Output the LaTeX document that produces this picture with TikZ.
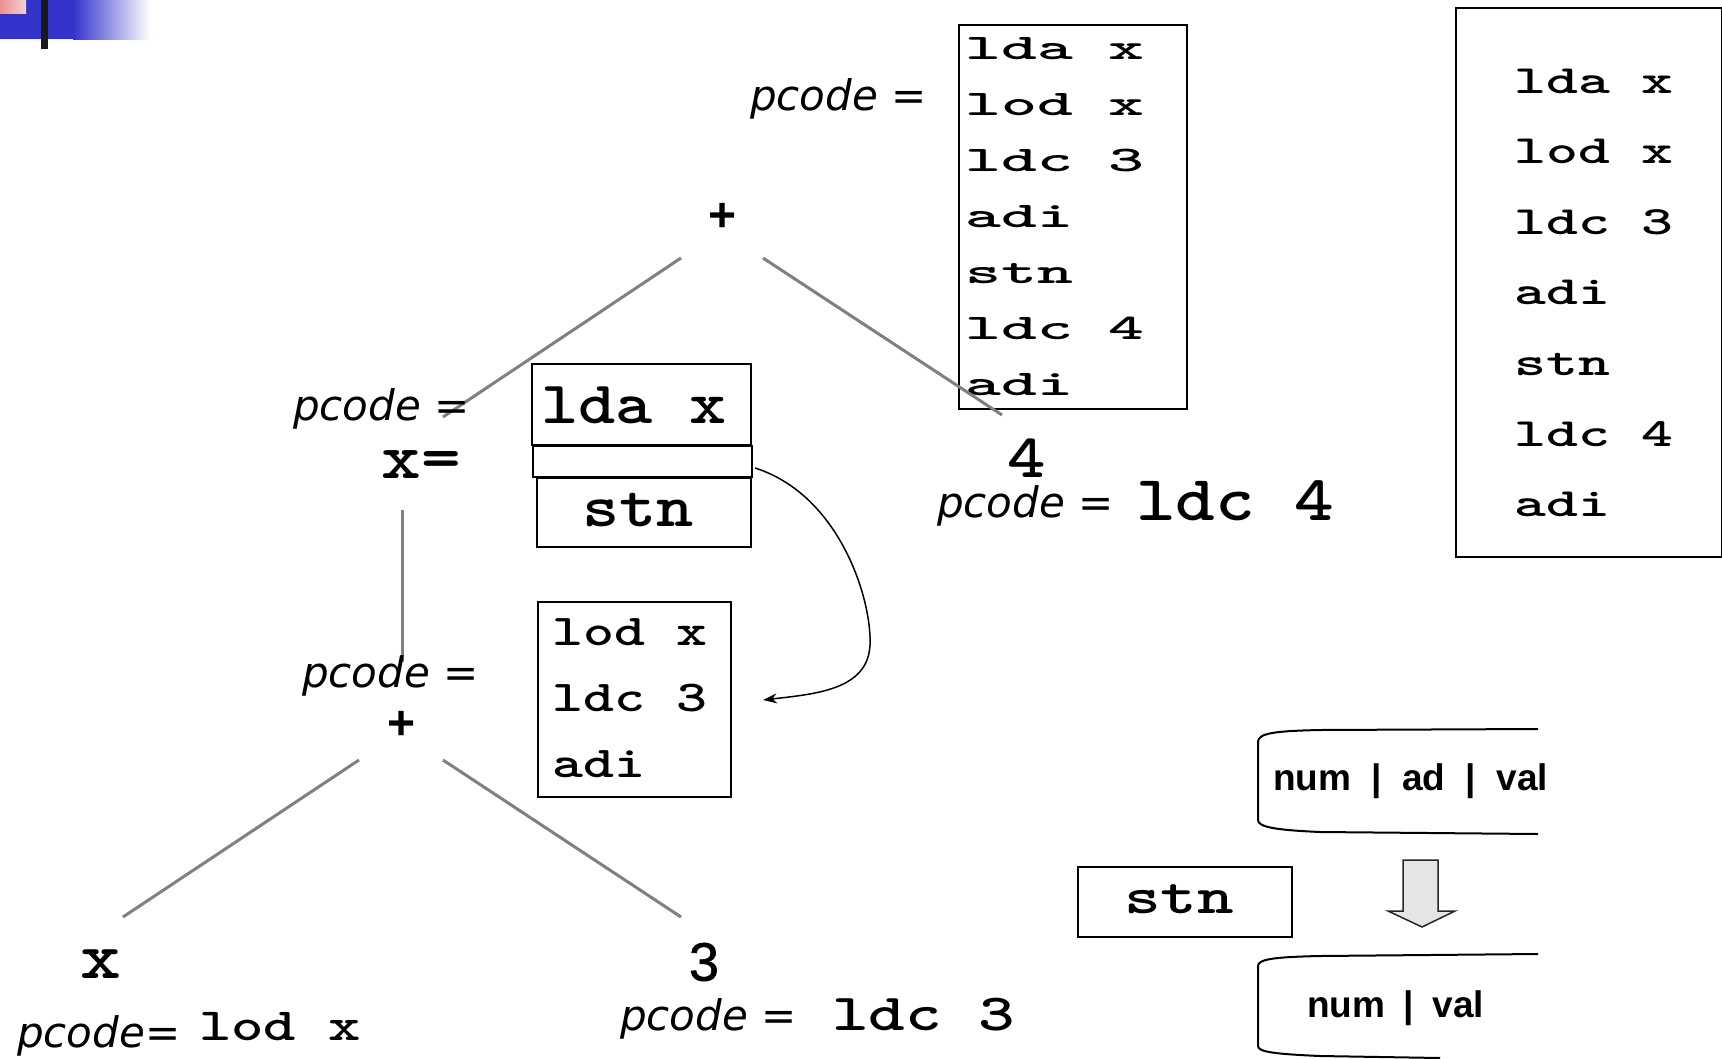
\documentclass[tikz,border=0pt]{standalone}
\usepackage{fontspec}
\usetikzlibrary{arrows.meta}
\newfontfamily\cA[FakeStretch=1.9]{lmmonolt10-bold.otf}
\newfontfamily\cB[FakeStretch=1.52]{lmmonolt10-bold.otf}
\newfontfamily\cC[FakeStretch=1.34]{lmmonolt10-bold.otf}
\newfontfamily\cE[FakeStretch=1.18]{lmmonolt10-bold.otf}
\newfontfamily\pcf{DejaVu Sans}
\newfontfamily\arialf{Liberation Sans}
\newfontfamily\threef[FakeBold=1.2]{Liberation Sans}
\newcommand{\fs}[1]{\fontsize{#1}{#1}\selectfont}
\definecolor{slideblue}{RGB}{51,51,204}
\definecolor{slidepink}{RGB}{232,180,180}
\tikzset{
  pc/.style={anchor=base west, inner sep=0pt, font=\pcf\itshape\fs{42}},
  codebox/.style={draw=black, line width=2pt, inner sep=0pt, anchor=north west},
  code/.style={anchor=base west, inner sep=0pt},
  treeedge/.style={draw=black!50, line width=3pt},
  opnode/.style={inner sep=0pt, font=\arialf\bfseries\fs{48}},
  scroll/.style={draw=black, line width=2pt},
  tbl/.style={anchor=base west, inner sep=0pt, font=\arialf\bfseries\fs{37}}
}
\begin{document}
\begin{tikzpicture}[x=1pt,y=-1pt]
\useasboundingbox (0,0) rectangle (1722,1058);
\fill[white] (0,0) rectangle (1722,1058);
% slide decoration
\fill[slideblue] (0,0) rectangle (74,39);
\shade[left color=slideblue, right color=white] (73,0) rectangle (150,39);
\shade[left color=slidepink!80!red, right color=slidepink!60] (0,0) rectangle (26,13);
\fill[black!90] (41,0) rectangle (48,49);

% ---------- top box
\node[codebox, minimum width=228pt, minimum height=384pt] (topbox) at (958,24) {};
\foreach \t [count=\i from 0] in {lda x,lod x,ldc 3,adi,stn,ldc 4,adi}
  \node[code, font=\cA\fs{36}] (tl\i) at (965,{59+56*\i}) {\t};
\node[pc] (pctop) at (750,110) {pcode =};

% ---------- right box
\node[codebox, minimum width=266pt, minimum height=549pt] (rightbox) at (1455,7) {};
\foreach \t [count=\i from 0] in {lda x,lod x,ldc 3,adi,stn,ldc 4,adi}
  \node[code, font=\cB\fs{40}] (rl\i) at (1514,{93+70.6*\i}) {\t};

% ---------- tree root
\node[opnode] (plus1) at (723,217) {+};
\coordinate (e1a) at (681,258);
\coordinate (e1b) at (443,417);
\coordinate (e2a) at (763,258);
\coordinate (e2b) at (1002,415);
\draw[treeedge] (e1a) -- (e1b);
\draw[treeedge] (e2a) -- (e2b);

% ---------- x= node
\node[pc] (pcmid) at (293,420) {pcode =};
\node[inner sep=0pt, font=\cE\fs{64}] (xeq) at (421,465) {x=};
\node[codebox, minimum width=219pt, minimum height=81pt] (ldabox) at (531,363) {};
\node[codebox, minimum width=219pt, minimum height=31pt] (emptybox) at (532,445) {};
\node[codebox, minimum width=214pt, minimum height=69pt] (stnbox) at (536,477) {};
\node[code, font=\cE\fs{60}] (ldatxt) at (541,423) {lda x};
\node[code, font=\cE\fs{60}] (stntxt) at (582,526) {stn};
\coordinate (v1a) at (402,510);
\coordinate (v1b) at (402,662);
\draw[treeedge] (v1a) -- (v1b);

% ---------- second + node
\node[pc] (pcplus) at (302,687) {pcode =};
\node[opnode] (plus2) at (402,725) {+};
\node[codebox, minimum width=193pt, minimum height=195pt] (lodbox) at (537,601) {};
\foreach \t [count=\i from 0] in {lod x,ldc 3,adi}
  \node[code, font=\cC\fs{44}] (ll\i) at (552,{645+66*\i}) {\t};

% curved arrow
\coordinate (cs) at (755,468);
\coordinate (ce) at (763,700);
\draw[line width=1.5pt, -{Stealth[length=14pt,width=10pt]}]
  (cs) .. controls (840,495) and (872,600) .. (870,645)
       .. controls (868,690) and (815,694) .. (ce);

\coordinate (e3a) at (359,760);
\coordinate (e3b) at (123,917);
\coordinate (e4a) at (443,760);
\coordinate (e4b) at (681,917);
\draw[treeedge] (e3a) -- (e3b);
\draw[treeedge] (e4a) -- (e4b);

% ---------- leaves
\node[inner sep=0pt, font=\cE\fs{66}] (leafx) at (101,964) {x};
\node[pc] (pcx) at (17,1047) {pcode=};
\node[code, font=\cC\fs{46}] (lodx) at (199,1040) {lod x};

\node[inner sep=0pt, font=\threef\fs{54}] (leaf3) at (704,962) {3};
\node[pc] (pc3) at (620,1030) {pcode =};
\node[code, font=\cC\fs{52}] (ldc3) at (832,1030) {ldc 3};

\node[inner sep=0pt, font=\cE\fs{62}] (leaf4) at (1027,458) {4};
\node[pc] (pc4) at (937,517) {pcode =};
\node[code, font=\cE\fs{64}] (ldc4) at (1136,520) {ldc 4};

% ---------- bottom right
\node[codebox, minimum width=214pt, minimum height=70pt] (stnbox2) at (1077,866) {};
\node[code, font=\cC\fs{52}] (stn2) at (1124,913) {stn};

\draw[scroll] (1538,729) -- (1320,730) .. controls (1275,731) and (1258,733) .. (1258,742)
  -- (1258,820) .. controls (1258,827) and (1275,830) .. (1320,832) -- (1538,834);
\node[tbl] (tbl1) at (1273,790) {num\hspace{0.55em}|\hspace{0.55em}ad\hspace{0.55em}|\hspace{0.55em}val};

\draw[fill=black!10, draw=black!85, line width=1.5pt] (1403,860) -- (1438,860) -- (1438,911)
  -- (1455,911) -- (1422,927) -- (1388,911) -- (1403,911) -- cycle;

\draw[scroll] (1538,954) -- (1320,956) .. controls (1275,957) and (1258,959) .. (1258,966)
  -- (1258,1046) .. controls (1258,1052) and (1275,1054) .. (1320,1056) -- (1440,1058);
\node[tbl] (tbl2) at (1307,1017) {num\enspace|\enspace val};
\end{tikzpicture}
\end{document}
